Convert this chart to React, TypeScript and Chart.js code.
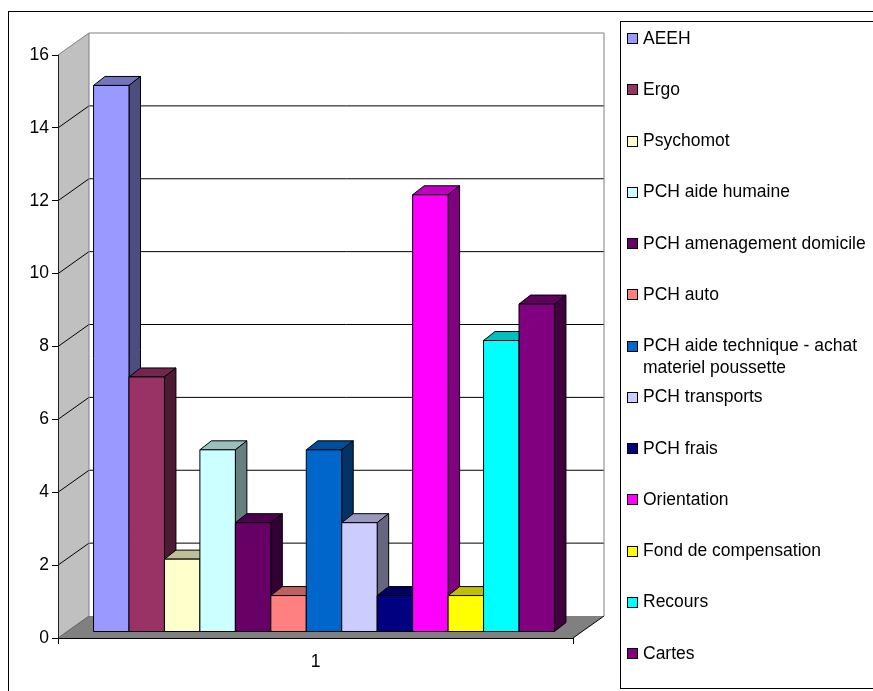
import React, { useEffect, useRef } from 'react';
import { Chart, registerables } from 'chart.js';

Chart.register(...registerables);

// Data
const categories = ['1'];
const seriesNames = [
  'AEEH',
  'Ergo',
  'Psychomot',
  'PCH aide humaine',
  'PCH amenagement domicile',
  'PCH auto',
  'PCH aide technique - achat materiel poussette',
  'PCH transports',
  'PCH frais',
  'Orientation',
  'Fond de compensation',
  'Recours',
  'Cartes',
];
const seriesValues = [15, 7, 2, 5, 3, 1, 5, 3, 1, 12, 1, 8, 9];
const seriesColors = [
  '#9999FF',
  '#993366',
  '#FFFFCC',
  '#CCFFFF',
  '#660066',
  '#FF8080',
  '#0066CC',
  '#CCCCFF',
  '#000080',
  '#FF00FF',
  '#FFFF00',
  '#00FFFF',
  '#800080',
];
const yMin = 0;
const yMax = 16;
const yStep = 2;

const FONT_FAMILY = "'Liberation Sans', Arial, Helvetica, sans-serif";
const FONT_SIZE = 17.5;

// 3D projection offsets
const WALL_DX = 31;
const WALL_DY = -22;
const BAR_SX = 8.5;
const BAR_SY = -6;
const BAR_DX = 11.5;
const BAR_DY = -9;

function shade(hex: string, f: number): string {
  const n = parseInt(hex.slice(1), 16);
  const r = Math.round(((n >> 16) & 255) * f);
  const g = Math.round(((n >> 8) & 255) * f);
  const b = Math.round((n & 255) * f);
  return `rgb(${r},${g},${b})`;
}

function poly(ctx: CanvasRenderingContext2D, pts: number[][], fill: string | null, stroke: string | null) {
  ctx.beginPath();
  ctx.moveTo(pts[0][0], pts[0][1]);
  for (let i = 1; i < pts.length; i++) ctx.lineTo(pts[i][0], pts[i][1]);
  ctx.closePath();
  if (fill) {
    ctx.fillStyle = fill;
    ctx.fill();
  }
  if (stroke) {
    ctx.strokeStyle = stroke;
    ctx.lineWidth = 1;
    ctx.stroke();
  }
}

function line(ctx: CanvasRenderingContext2D, pts: number[][], color: string) {
  ctx.beginPath();
  ctx.moveTo(pts[0][0], pts[0][1]);
  for (let i = 1; i < pts.length; i++) ctx.lineTo(pts[i][0], pts[i][1]);
  ctx.strokeStyle = color;
  ctx.lineWidth = 1;
  ctx.stroke();
}

// Walls, floor and gridlines of the 3D box
const boxPlugin = {
  id: 'box3d',
  beforeDraw(chart: any) {
    const { ctx, chartArea } = chart;
    const { left, right, top, bottom } = chartArea;
    const yScale = chart.scales.y;
    ctx.save();

    // outer frame
    ctx.strokeStyle = '#000';
    ctx.lineWidth = 1;
    ctx.strokeRect(8.5, 11.5, 1000, 1000);

    // side wall
    poly(ctx, [[left, top], [left + WALL_DX, top + WALL_DY], [left + WALL_DX, bottom + WALL_DY], [left, bottom]], '#C0C0C0', null);
    // back wall
    poly(ctx, [[left + WALL_DX, top + WALL_DY], [right + WALL_DX, top + WALL_DY], [right + WALL_DX, bottom + WALL_DY], [left + WALL_DX, bottom + WALL_DY]], '#FFFFFF', null);
    // floor
    poly(ctx, [[left, bottom], [left + WALL_DX, bottom + WALL_DY], [right + WALL_DX, bottom + WALL_DY], [right, bottom]], '#808080', null);

    // gridlines across side and back walls
    yScale.ticks.forEach((t: any) => {
      if (t.value <= yMin || t.value >= yMax) return;
      const py = yScale.getPixelForValue(t.value);
      line(ctx, [[left, py], [left + WALL_DX, py + WALL_DY], [right + WALL_DX, py + WALL_DY]], '#000');
    });

    // wall outlines
    line(ctx, [[left, top], [left + WALL_DX, top + WALL_DY], [right + WALL_DX, top + WALL_DY], [right + WALL_DX, bottom + WALL_DY]], '#808080');
    line(ctx, [[left + WALL_DX, top + WALL_DY], [left + WALL_DX, bottom + WALL_DY]], '#808080');
    line(ctx, [[left, bottom], [left + WALL_DX, bottom + WALL_DY]], '#606060');
    line(ctx, [[right, bottom], [right + WALL_DX, bottom + WALL_DY]], '#000');
    ctx.restore();
  },
  beforeDatasetDraw() {
    return false;
  },
  afterDatasetsDraw(chart: any) {
    const { ctx } = chart;
    ctx.save();
    ctx.lineJoin = 'miter';
    chart.data.datasets.forEach((ds: any, i: number) => {
      const meta = chart.getDatasetMeta(i);
      const color = ds.backgroundColor as string;
      meta.data.forEach((el: any) => {
        const { x, y, base, width } = el.getProps(['x', 'y', 'base', 'width'], true);
        const l = x - width / 2 + BAR_SX;
        const r = x + width / 2 + BAR_SX;
        const t = y + BAR_SY;
        const b = base + BAR_SY;
        // top face
        poly(ctx, [[l, t], [l + BAR_DX, t + BAR_DY], [r + BAR_DX, t + BAR_DY], [r, t]], shade(color, 0.75), '#000');
        // side face
        poly(ctx, [[r, t], [r + BAR_DX, t + BAR_DY], [r + BAR_DX, b + BAR_DY], [r, b]], shade(color, 0.5), '#000');
        // front face
        poly(ctx, [[l, t], [r, t], [r, b], [l, b]], color, '#000');
      });
    });
    ctx.restore();
  },
};

// Boxed legend on the right, one entry per series
const legendPlugin = {
  id: 'boxLegend',
  afterDraw(chart: any) {
    const { ctx } = chart;
    ctx.save();
    ctx.strokeStyle = '#000';
    ctx.lineWidth = 1;
    ctx.strokeRect(620.5, 21.5, 400, 667);

    ctx.font = `${FONT_SIZE}px ${FONT_FAMILY}`;
    ctx.textBaseline = 'alphabetic';
    ctx.textAlign = 'left';
    const maxWidth = 240;
    chart.data.datasets.forEach((ds: any, i: number) => {
      const baseY = 43.5 + i * 51.25;
      ctx.fillStyle = ds.backgroundColor;
      ctx.fillRect(627.5, Math.round(baseY - 10.5) + 0.5, 10, 10);
      ctx.strokeStyle = '#000';
      ctx.strokeRect(627.5, Math.round(baseY - 10.5) + 0.5, 10, 10);

      // word wrap
      const words = String(ds.label).split(' ');
      const lines: string[] = [];
      let cur = '';
      words.forEach((w) => {
        const test = cur ? cur + ' ' + w : w;
        if (cur && ctx.measureText(test).width > maxWidth) {
          lines.push(cur);
          cur = w;
        } else {
          cur = test;
        }
      });
      if (cur) lines.push(cur);
      ctx.fillStyle = '#000';
      lines.forEach((ln, k) => {
        ctx.fillText(ln, 643, baseY + k * 22);
      });
    });
    ctx.restore();
  },
};

export default function App() {
  const canvasRef = useRef<HTMLCanvasElement>(null);

  useEffect(() => {
    const canvas = canvasRef.current;
    if (!canvas) return;
    const chart = new Chart(canvas, {
      type: 'bar',
      data: {
        labels: categories,
        datasets: seriesNames.map((name, i) => ({
          label: name,
          data: [seriesValues[i]],
          backgroundColor: seriesColors[i],
          categoryPercentage: 0.895,
          barPercentage: 1.0,
        })),
      },
      options: {
        responsive: false,
        animation: false,
        devicePixelRatio: 1,
        layout: { padding: { left: 8, top: 55, right: 300, bottom: 13 } },
        plugins: {
          legend: { display: false },
          tooltip: { enabled: false },
        },
        scales: {
          x: {
            type: 'category',
            offset: true,
            afterFit: (s: any) => {
              s.height = 40;
            },
            grid: {
              display: true,
              offset: true,
              drawOnChartArea: false,
              drawTicks: true,
              tickLength: 6,
              color: '#000',
            },
            border: { display: true, color: '#000' },
            ticks: {
              color: '#000',
              font: { family: FONT_FAMILY, size: FONT_SIZE },
              padding: 8,
            },
          },
          y: {
            min: yMin,
            max: yMax,
            afterFit: (s: any) => {
              s.width = 50;
            },
            grid: {
              display: true,
              drawOnChartArea: false,
              drawTicks: true,
              tickLength: 6,
              color: '#000',
            },
            border: { display: true, color: '#222' },
            ticks: {
              stepSize: yStep,
              color: '#000',
              font: { family: FONT_FAMILY, size: FONT_SIZE },
              padding: 3,
            },
          },
        },
      },
      plugins: [boxPlugin, legendPlugin],
    } as any);
    return () => chart.destroy();
  }, []);

  return (
    <div style={{ position: 'absolute', left: 0, top: 0, width: 873, height: 691, overflow: 'hidden' }}>
      <canvas ref={canvasRef} width={873} height={691} style={{ display: 'block' }} />
    </div>
  );
}
